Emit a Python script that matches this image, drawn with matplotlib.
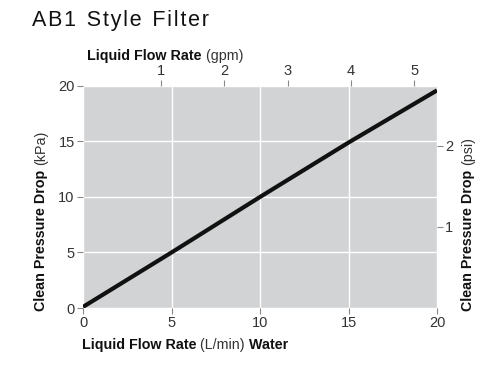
import matplotlib
matplotlib.use('Agg')
import matplotlib.pyplot as plt

# data
flow_lpm = [0, 5, 10, 15, 20]
dp_kpa = [0.1, 5.0, 10.0, 14.9, 19.6]

gpm_ticks = [1, 2, 3, 4, 5]
psi_ticks = [1, 2]

plt.rcParams['font.family'] = ['Liberation Sans', 'DejaVu Sans']

fig = plt.figure(figsize=(5, 3.72), dpi=100)
ax = fig.add_axes([0.166, 0.172, 0.708, 0.597])
ax.set_facecolor('#d1d3d4')
for s in ax.spines.values():
    s.set_visible(False)

ax.plot(flow_lpm, dp_kpa, color='#111111', lw=3, solid_capstyle='butt', zorder=3)
ax.set_xlim(0, 20)
ax.set_ylim(0, 20)
ax.set_xticks([0, 5, 10, 15, 20])
ax.set_yticks([0, 5, 10, 15, 20])
ax.grid(True, color='white', lw=1)
ax.set_axisbelow(True)
ax.tick_params(length=4, width=0.8, color='#888888', labelcolor='#333333',
               labelsize=10.5, pad=2)

# top axis: gpm
top = ax.twiny()
top.set_xlim(-0.23, 5.36)
top.set_xticks(gpm_ticks)
# right axis: psi
right = ax.twinx()
right.set_ylim(0, 2.74)
right.set_yticks(psi_ticks)
for a in (top, right):
    for s in a.spines.values():
        s.set_visible(False)
    a.tick_params(length=4, width=0.8, color='#888888', labelcolor='#333333',
                  labelsize=10.5, pad=2)

title = 'A B 1  S t y l e  F i l t e r'.replace('  ', '\u2002').replace(' ', '\u200a')
fig.text(0.064, 0.945, title, fontsize=15.5, va='center', ha='left', color='#111111')

fs = 10.3

# top label
t = fig.text(0.174, 0.84, 'Liquid Flow Rate', fontsize=fs, weight='bold', color='#111111')
ax.annotate(' (gpm)', xy=(1, 0), xycoords=t, fontsize=fs, color='#333333',
            ha='left', va='bottom', annotation_clip=False)

# bottom label
t = fig.text(0.164, 0.062, 'Liquid Flow Rate', fontsize=fs, weight='bold', color='#111111')
t2 = ax.annotate(' (L/min)', xy=(1, 0), xycoords=t, fontsize=fs, color='#333333',
                 ha='left', va='bottom', annotation_clip=False)
ax.annotate(' Water', xy=(1, 0), xycoords=t2, fontsize=fs, color='#111111',
            weight='bold', ha='left', va='bottom', annotation_clip=False)

# left label
t = fig.text(0.082, 0.165, 'Clean Pressure Drop', fontsize=fs, weight='bold',
             color='#111111', rotation=90, ha='center', va='bottom')
ax.annotate('(kPa)', xy=(0.5, 1), xycoords=t, fontsize=fs, color='#333333',
            rotation=90, ha='center', va='bottom', xytext=(0, 3),
            textcoords='offset points', annotation_clip=False)

# right label
t = fig.text(0.936, 0.165, 'Clean Pressure Drop', fontsize=fs, weight='bold',
             color='#111111', rotation=90, ha='center', va='bottom')
ax.annotate('(psi)', xy=(0.5, 1), xycoords=t, fontsize=fs, color='#333333',
            rotation=90, ha='center', va='bottom', xytext=(0, 3),
            textcoords='offset points', annotation_clip=False)

fig.savefig('out.png', dpi=100)
